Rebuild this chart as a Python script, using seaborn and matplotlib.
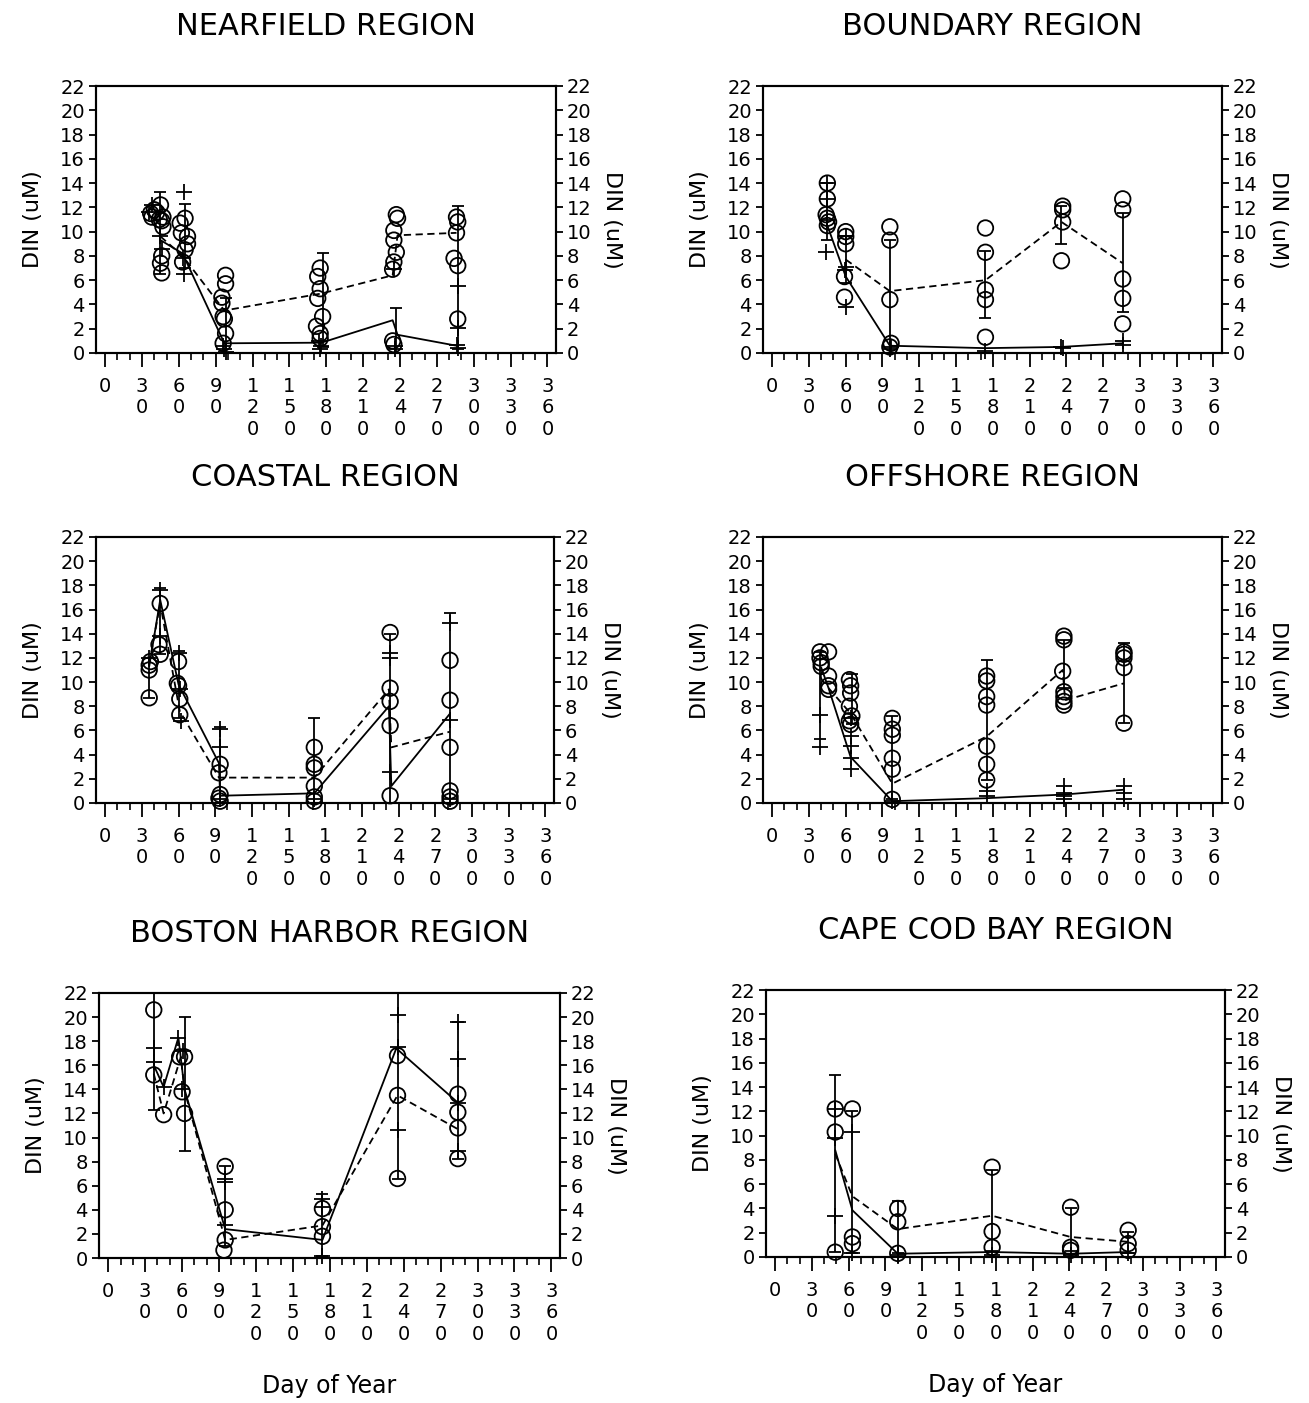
import matplotlib
matplotlib.use("Agg")
import matplotlib.pyplot as plt
import seaborn as sns
from matplotlib.ticker import MultipleLocator, FixedLocator, FixedFormatter

# ---------------- DATA ----------------
panel_titles = ["NEARFIELD REGION", "BOUNDARY REGION", "COASTAL REGION",
                "OFFSHORE REGION", "BOSTON HARBOR REGION", "CAPE COD BAY REGION"]
y_label = "DIN (uM)"
x_label = "Day of Year"
x_ticks = [0, 30, 60, 90, 120, 150, 180, 210, 240, 270, 300, 330, 360]
x_tick_labels = ["\n".join(str(v)) for v in x_ticks]

# Nearfield
nf_circ_day = [37, 40, 45, 47, 47, 46, 45, 46, 38, 42, 44, 46,
               61, 65, 62, 67, 67, 65, 63,
               98, 98, 95, 95, 96, 97, 98, 96,
               175, 173, 175, 173, 177, 172, 175, 175,
               237, 238, 235, 235, 237, 235, 234, 234, 235,
               286, 287, 286, 284, 287, 287]
nf_circ_val = [11.5, 11.8, 12.2, 11.2, 10.4, 8.0, 7.4, 6.6, 11.2, 11.6, 11.0, 10.9,
               10.7, 11.1, 9.9, 9.6, 9.0, 8.5, 7.5,
               6.4, 5.7, 4.6, 4.1, 3.0, 2.8, 1.6, 0.8,
               7.0, 6.3, 5.3, 4.5, 3.0, 2.2, 1.6, 1.2,
               11.4, 11.1, 10.1, 9.3, 8.3, 7.5, 6.9, 1.0, 0.7,
               11.2, 10.8, 9.9, 7.8, 7.2, 2.8]
nf_plus_day = [38, 36, 45, 46, 64, 64, 63, 97, 98, 96, 175, 176, 174, 235, 236, 236, 287, 287, 287, 286]
nf_plus_val = [12.2, 11.6, 9.6, 8.6, 13.3, 6.5, 7.8, 0.3, 0.1, 0.6, 0.3, 0.6, 1.0, 6.9, 0.3, 0.6, 5.5, 2.1, 0.4, 0.7]
nf_eb_day = [45, 65, 98, 177, 237, 287]
nf_eb_lo = [6.5, 7.0, 0.0, 0.5, 0.0, 0.3]
nf_eb_hi = [13.3, 12.3, 4.5, 8.2, 3.7, 12.1]
nf_dash_day = [45, 63, 97, 176, 234, 238, 286]
nf_dash_val = [9.6, 8.0, 3.5, 4.9, 6.4, 9.7, 9.9]
nf_solid_day = [45, 63, 97, 176, 234, 238, 286]
nf_solid_val = [9.3, 8.2, 0.8, 0.85, 2.7, 1.5, 0.6]

# Boundary
bd_circ_day = [45, 45, 44, 45, 46, 45, 60, 60, 60, 59, 59, 96, 96, 96, 97, 96,
               174, 174, 174, 174, 174, 237, 237, 237, 236, 286, 286, 286, 286, 286]
bd_circ_val = [14.0, 12.7, 11.4, 11.1, 10.8, 10.5, 10.0, 9.6, 9.0, 6.3, 4.6, 10.4, 9.3, 4.4, 0.8, 0.5,
               10.3, 8.3, 5.2, 4.4, 1.3, 12.1, 11.8, 10.8, 7.6, 12.7, 11.8, 6.1, 4.5, 2.4]
bd_plus_day = [45, 45, 45, 44, 60, 60, 59, 60, 97, 96, 174, 236, 237, 286, 286]
bd_plus_val = [14.0, 12.7, 11.0, 8.3, 9.6, 7.1, 6.8, 3.8, 0.5, 0.3, 0.2, 0.5, 0.4, 1.0, 0.7]
bd_eb_day = [45, 60, 96, 174, 236, 286]
bd_eb_lo = [9.3, 5.8, 0.0, 2.9, 9.0, 3.4]
bd_eb_hi = [14.0, 9.6, 9.3, 8.4, 12.1, 11.5]
bd_dash_day = [60, 96, 174, 236, 286]
bd_dash_val = [7.7, 5.1, 6.0, 10.8, 7.4]
bd_solid_day = [45, 60, 96, 174, 236, 286]
bd_solid_val = [10.5, 6.3, 0.6, 0.4, 0.5, 0.8]

# Coastal
co_circ_day = [36, 36, 36, 37, 45, 44, 45, 60, 59, 60, 61, 61, 94, 93, 94, 94, 93,
               171, 171, 171, 171, 171, 171, 233, 233, 233, 233, 233,
               282, 282, 282, 282, 282, 282]
co_circ_val = [11.4, 11.0, 8.7, 11.7, 16.5, 13.1, 12.3, 11.7, 9.9, 9.7, 8.6, 7.3, 3.2, 2.5, 0.7, 0.15, 0.4,
               4.6, 3.2, 2.9, 1.4, 0.5, 0.15, 14.1, 9.5, 8.4, 6.4, 0.6,
               11.8, 8.5, 4.6, 1.0, 0.5, 0.15]
co_plus_day = [36, 45, 45, 60, 61, 62, 94, 94, 94, 171, 233, 233, 233, 282, 282, 282]
co_plus_val = [12.0, 17.6, 13.8, 12.4, 9.4, 6.8, 6.1, 4.6, 0.3, 0.3, 12.0, 12.4, 2.6, 14.9, 6.9, 0.3]
co_eb_day = [36, 45, 60, 94, 171, 233, 282]
co_eb_lo = [8.7, 12.3, 7.0, 0.0, 0.0, 0.0, 0.0]
co_eb_hi = [12.0, 17.8, 12.6, 6.3, 7.0, 14.0, 15.7]
co_dash_day = [36, 45, 61, 93, 171, 232, 234, 282]
co_dash_val = [11.5, 16.5, 7.6, 2.1, 2.1, 9.4, 4.6, 5.9]
co_solid_day = [36, 45, 60, 93, 94, 171, 232, 234, 282]
co_solid_val = [11.3, 16.8, 9.8, 3.3, 0.6, 0.8, 8.0, 1.4, 7.4]

# Offshore
of_circ_day = [39, 39, 40, 40, 46, 46, 46, 46, 63, 64, 64, 63, 65, 63, 64,
               98, 98, 98, 98, 98, 98, 175, 175, 175, 175, 175, 175, 175,
               238, 238, 237, 238, 238, 238, 238, 287, 287, 287, 287, 287]
of_circ_val = [12.5, 12.0, 11.6, 11.3, 12.5, 10.5, 9.7, 9.4, 10.2, 9.7, 9.1, 8.0, 7.2, 6.8, 6.5,
               7.0, 6.1, 5.6, 3.7, 2.8, 0.3, 10.5, 10.1, 8.8, 8.1, 4.7, 3.2, 1.9,
               13.8, 13.5, 10.9, 9.2, 8.8, 8.4, 8.1, 12.5, 12.3, 12.0, 11.2, 6.6]
of_plus_day = [39, 39, 64, 64, 64, 64, 64, 98, 175, 175, 238, 238, 238, 238, 287, 287, 287]
of_plus_val = [7.3, 4.6, 7.0, 5.5, 4.7, 3.7, 2.8, 0.2, 1.0, 0.55, 1.4, 0.8, 0.55, 0.3, 1.4, 0.8, 0.3]
of_eb_day = [39, 65, 98, 175, 238, 287]
of_eb_lo = [5.3, 6.5, 0.3, 1.9, 9.5, 6.6]
of_eb_hi = [12.5, 10.7, 7.2, 11.8, 13.5, 13.2]
of_dash_day = [46, 64, 98, 175, 237, 239, 287]
of_dash_val = [9.5, 7.4, 1.6, 5.5, 11.0, 8.5, 9.9]
of_solid_day = [40, 46, 64, 98, 175, 238, 287]
of_solid_val = [11.2, 9.5, 3.8, 0.15, 0.4, 0.7, 1.1]

# Boston Harbor
bh_circ_day = [37, 37, 45, 58, 62, 60, 62, 95, 95, 95, 94, 174, 174, 174, 235, 235, 235, 284, 284, 284, 284]
bh_circ_val = [20.6, 15.2, 11.9, 16.7, 16.7, 13.8, 12.0, 7.6, 4.0, 1.5, 0.65, 4.1, 2.6, 1.8, 16.8, 13.5, 6.6, 13.6, 12.1, 10.8, 8.25]
bh_plus_day = [37, 37, 45, 57, 61, 60, 95, 95, 95, 174, 174, 174, 235, 235, 235, 284, 284, 284, 284]
bh_plus_val = [17.4, 16.3, 14.2, 18.3, 17.2, 14.0, 6.6, 6.3, 2.7, 4.9, 4.2, 0.2, 20.2, 17.5, 10.6, 19.6, 16.5, 12.9, 8.9]
bh_eb_day = [37, 62, 95, 174, 235, 284]
bh_eb_lo = [12.3, 8.9, 1.0, 0.2, 6.6, 8.25]
bh_eb_hi = [22.0, 20.0, 7.6, 5.3, 22.0, 19.6]
bh_dash_day = [37, 45, 59, 62, 95, 174, 235, 284]
bh_dash_val = [15.3, 12.0, 16.7, 13.9, 1.5, 2.7, 13.5, 10.7]
bh_solid_day = [37, 45, 57, 62, 95, 174, 234, 284]
bh_solid_val = [16.0, 14.2, 18.3, 14.0, 2.4, 1.5, 17.4, 12.9]

# Cape Cod Bay
cc_circ_day = [49, 49, 49, 63, 63, 63, 100, 100, 100, 177, 177, 177, 241, 241, 241, 288, 288, 288]
cc_circ_val = [12.2, 10.3, 0.4, 12.2, 1.65, 1.1, 4.0, 2.9, 0.3, 7.4, 2.1, 0.8, 4.1, 0.8, 0.55, 2.2, 1.1, 0.55]
cc_plus_day = [49, 49, 49, 63, 63, 100, 177, 241, 288]
cc_plus_val = [12.2, 9.8, 3.4, 10.3, 0.3, 0.2, 0.2, 0.2, 0.3]
cc_eb_day = [49, 63, 100, 177, 241, 288]
cc_eb_lo = [0.4, 0.3, 0.3, 0.5, 0.5, 0.3]
cc_eb_hi = [15.0, 12.0, 4.6, 7.2, 4.0, 2.1]
cc_dash_day = [49, 63, 100, 177, 241, 288]
cc_dash_val = [8.5, 5.0, 2.3, 3.4, 1.65, 1.25]
cc_solid_day = [49, 63, 100, 177, 241, 288]
cc_solid_val = [8.8, 3.85, 0.27, 0.41, 0.27, 0.41]

# ---------------- STYLE ----------------
sns.set_theme(style="white")
plt.rcParams['font.family'] = ['DejaVu Sans']
plt.rcParams.update({
    'axes.edgecolor': 'black', 'axes.linewidth': 1.5,
    'xtick.color': 'black', 'ytick.color': 'black',
    'text.color': 'black', 'axes.labelcolor': 'black',
    'axes.facecolor': 'white', 'figure.facecolor': 'white',
})

W, H = 1309, 1403
fig = plt.figure(figsize=(W / 100, H / 100), dpi=100)

# axes boxes in pixels: left, top, right, bottom
boxes = [(96, 86, 556, 353), (763, 86, 1222, 353),
         (96, 537, 554, 803), (763, 537, 1222, 803),
         (99, 993, 560, 1258), (766, 990, 1225, 1257)]

panels = [
    (nf_circ_day, nf_circ_val, nf_plus_day, nf_plus_val, nf_eb_day, nf_eb_lo, nf_eb_hi,
     nf_dash_day, nf_dash_val, nf_solid_day, nf_solid_val),
    (bd_circ_day, bd_circ_val, bd_plus_day, bd_plus_val, bd_eb_day, bd_eb_lo, bd_eb_hi,
     bd_dash_day, bd_dash_val, bd_solid_day, bd_solid_val),
    (co_circ_day, co_circ_val, co_plus_day, co_plus_val, co_eb_day, co_eb_lo, co_eb_hi,
     co_dash_day, co_dash_val, co_solid_day, co_solid_val),
    (of_circ_day, of_circ_val, of_plus_day, of_plus_val, of_eb_day, of_eb_lo, of_eb_hi,
     of_dash_day, of_dash_val, of_solid_day, of_solid_val),
    (bh_circ_day, bh_circ_val, bh_plus_day, bh_plus_val, bh_eb_day, bh_eb_lo, bh_eb_hi,
     bh_dash_day, bh_dash_val, bh_solid_day, bh_solid_val),
    (cc_circ_day, cc_circ_val, cc_plus_day, cc_plus_val, cc_eb_day, cc_eb_lo, cc_eb_hi,
     cc_dash_day, cc_dash_val, cc_solid_day, cc_solid_val),
]

for i, (box, title, pdata) in enumerate(zip(boxes, panel_titles, panels)):
    l, t, r, b = box
    ax = fig.add_axes([l / W, 1 - b / H, (r - l) / W, (b - t) / H])
    (cd, cv, pd_, pv, ed, elo, ehi, dd, dv, sd, sv) = pdata

    # mean lines
    sns.lineplot(x=dd, y=dv, ax=ax, color='black', lw=1.3, linestyle=(0, (4, 2.5)),
                 estimator=None, sort=False, zorder=2)
    sns.lineplot(x=sd, y=sv, ax=ax, color='black', lw=1.3, linestyle='-',
                 estimator=None, sort=False, zorder=2)
    # error bars
    mid = [(a + c) / 2 for a, c in zip(elo, ehi)]
    half = [(c - a) / 2 for a, c in zip(elo, ehi)]
    ax.errorbar(ed, mid, yerr=half, fmt='none', ecolor='black', elinewidth=1.3,
                capsize=4, capthick=1.3, zorder=2, clip_on=False)
    # individual observations
    sns.scatterplot(x=cd, y=cv, ax=ax, marker='o', s=125, facecolor='none',
                    edgecolor='black', linewidth=1.3, zorder=3, clip_on=False)
    sns.scatterplot(x=pd_, y=pv, ax=ax, marker='+', s=140, color='black',
                    edgecolor=None, linewidth=1.3, zorder=3, clip_on=False)

    ax.set_xlim(-7.5, 367)
    ax.set_ylim(0, 22)
    ax.xaxis.set_major_locator(FixedLocator(x_ticks))
    ax.xaxis.set_major_formatter(FixedFormatter(x_tick_labels))
    ax.xaxis.set_minor_locator(MultipleLocator(10))
    ax.yaxis.set_major_locator(MultipleLocator(2))
    ax.tick_params(axis='x', which='major', direction='out', length=10, width=1.3,
                   labelsize=14, pad=7, bottom=True, top=False)
    ax.tick_params(axis='x', which='minor', direction='out', length=5, width=1.2,
                   bottom=True, top=False)
    ax.tick_params(axis='y', which='major', direction='out', length=5, width=1.3,
                   labelsize=14, pad=3, left=True)
    for lbl in ax.get_xticklabels():
        lbl.set_linespacing(1.17)
    ax.set_ylabel(y_label, fontsize=16, labelpad=12)
    ax.set_title(title, fontsize=22, pad=37)
    if i >= 4:
        ax.set_xlabel(x_label, fontsize=17, labelpad=22)
    else:
        ax.set_xlabel("")

    ax2 = ax.twinx()
    ax2.set_ylim(0, 22)
    ax2.yaxis.set_major_locator(MultipleLocator(2))
    ax2.tick_params(axis='y', which='major', direction='out', length=5, width=1.3,
                    labelsize=14, pad=3)
    ax2.set_ylabel(y_label, fontsize=16, rotation=270, labelpad=22)
    for sp in ax2.spines.values():
        sp.set_linewidth(1.5)

fig.savefig("out.png", dpi=100)
